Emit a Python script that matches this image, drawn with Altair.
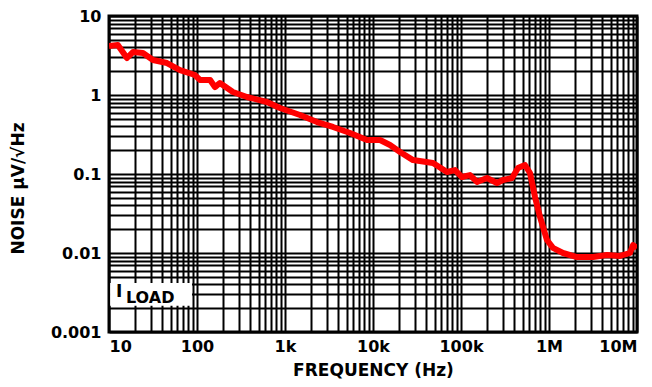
import altair as alt
import pandas as pd

# Noise spectral density (Hz, µV/√Hz)
freq = [10, 12.6, 16.0, 18.7, 24.3, 31.6, 45.6, 64.1, 94.8, 108, 141, 160, 182,
        256, 370, 624, 877, 1479, 2312, 3508, 5483, 8551, 12020, 15600, 20280,
        28510, 48080, 69340, 85510, 102600, 126500, 152100, 197200, 256400,
        299900, 380200, 444600, 533300, 608100, 693400, 790700, 948400,
        1109000, 1442000, 2080000, 3162000, 4560000, 6412000, 8318000,
        9016000, 10000000]
noise = [4.17, 4.30, 2.94, 3.50, 3.40, 2.77, 2.54, 2.07, 1.79, 1.55, 1.55, 1.26,
         1.42, 1.09, 0.944, 0.815, 0.684, 0.558, 0.455, 0.394, 0.330, 0.269,
         0.269, 0.233, 0.190, 0.150, 0.138, 0.106, 0.112, 0.0916, 0.0970,
         0.0793, 0.0889, 0.0769, 0.0839, 0.0889, 0.119, 0.130, 0.103, 0.0512,
         0.0286, 0.0146, 0.0116, 0.0100, 0.00889, 0.00889, 0.00944, 0.00917,
         0.0100, 0.0126, 0.0116]

x_decades = [10, 100, 1000, 10000, 100000, 1000000, 10000000]
x_labels = ["10", "100", "1k", "10k", "100k", "1M", "10M"]
y_decades = [0.001, 0.01, 0.1, 1, 10]
y_labels = ["0.001", "0.01", "0.1", "1", "10"]
minor_mult = [2, 3, 4, 5, 6, 7, 8, 9]

x_grid = sorted(set(x_decades + [d * m for d in x_decades[:-1] for m in minor_mult]))
y_grid = sorted(set(y_decades + [round(d * m, 6) for d in y_decades[:-1] for m in minor_mult]))


def label_expr(vals, labels):
    expr = "''"
    for v, l in reversed(list(zip(vals, labels))):
        expr = f"datum.value == {v} ? '{l}' : ({expr})"
    return expr


df = pd.DataFrame({"f": freq, "n": noise})

FONT = "DejaVu Sans"

xscale = alt.Scale(type="log", domain=[10, 1e7], nice=False)
yscale = alt.Scale(type="log", domain=[0.001, 10], nice=False)

line = alt.Chart(df).mark_line(color="#ff0000", strokeWidth=6, clip=True,
                               strokeJoin="round").encode(
    x=alt.X("f:Q", scale=xscale,
            axis=alt.Axis(values=x_grid, labelExpr=label_expr(x_decades, x_labels),
                          title="FREQUENCY (Hz)", ticks=False, domain=False,
                          grid=True, gridColor="black", gridWidth=2, gridOpacity=1,
                          labelFont=FONT, labelFontWeight="bold", labelFontSize=16,
                          labelColor="black", labelPadding=6, labelFlush=True,
                          titleFont=FONT, titleFontWeight="bold", titleFontSize=17,
                          titleColor="black", titlePadding=8)),
    y=alt.Y("n:Q", scale=yscale,
            axis=alt.Axis(values=y_grid, labelExpr=label_expr(y_decades, y_labels),
                          title="NOISE µV/√Hz", ticks=False, domain=False,
                          grid=True, gridColor="black", gridWidth=2, gridOpacity=1,
                          labelFont=FONT, labelFontWeight="bold", labelFontSize=16,
                          labelColor="black", labelPadding=8,
                          titleFont=FONT, titleFontWeight="bold", titleFontSize=17,
                          titleColor="black", titleX=-82, titleY=172)),
)

# I_LOAD label box
box_df = pd.DataFrame({"x1": [10.3], "x2": [87.7], "y1": [0.00215], "y2": [0.00417]})
box = alt.Chart(box_df).mark_rect(color="white").encode(
    x=alt.X("x1:Q", scale=xscale), x2="x2:Q",
    y=alt.Y("y1:Q", scale=yscale), y2="y2:Q")

txt_df = pd.DataFrame({"x": [12.0, 15.6], "y": [0.00277, 0.00233],
                       "t": ["I", "LOAD"]})
txt_i = alt.Chart(txt_df.iloc[[0]]).mark_text(
    align="left", baseline="alphabetic", font=FONT, fontWeight="bold",
    fontSize=17, color="black").encode(
    x=alt.X("x:Q", scale=xscale), y=alt.Y("y:Q", scale=yscale), text="t:N")
txt_load = alt.Chart(txt_df.iloc[[1]]).mark_text(
    align="left", baseline="alphabetic", font=FONT, fontWeight="bold",
    fontSize=16, color="black").encode(
    x=alt.X("x:Q", scale=xscale), y=alt.Y("y:Q", scale=yscale), text="t:N")

chart = alt.layer(line, box, txt_i, txt_load).properties(
    width=528, height=316,
    autosize=alt.AutoSizeParams(type="none"),
    padding={"left": 101, "top": 8, "right": 7, "bottom": 55},
    background="white",
).configure_view(stroke="black", strokeWidth=3)

chart.save("out.html", embed_options={"renderer": "svg", "actions": False})
